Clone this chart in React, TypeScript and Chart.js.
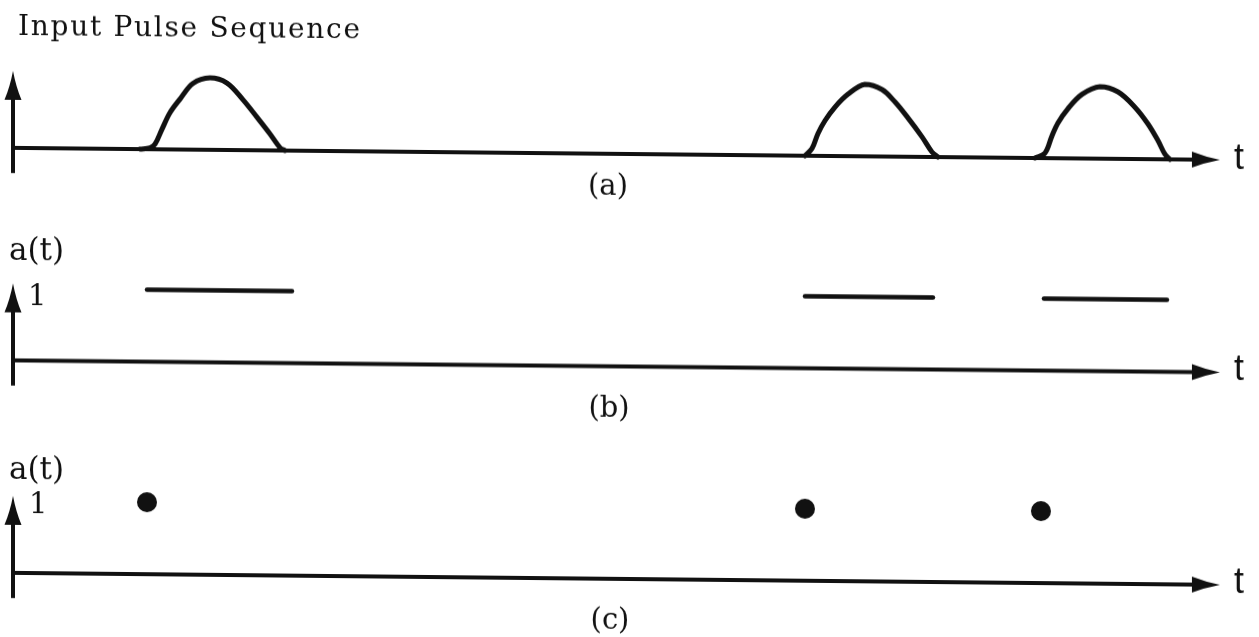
import React, { useEffect, useRef } from "react";
import { Chart, registerables } from "chart.js";

Chart.register(...registerables);

// ---- time axis / amplitude axis extents (data units) ----
const T_MAX = 12.07;
const AXIS_TOP = 1.07;
const AXIS_BOTTOM = -0.35;

// ---- (a) input pulse sequence: time / amplitude pairs for each pulse ----
const pulse1T = [1.27, 1.37, 1.42, 1.49, 1.57, 1.67, 1.8, 1.97, 2.14, 2.3, 2.44, 2.57, 2.67, 2.72];
const pulse1A = [0, 0.02, 0.07, 0.28, 0.51, 0.7, 0.92, 1.0, 0.93, 0.7, 0.46, 0.23, 0.04, 0];

const pulse2T = [7.92, 7.99, 8.05, 8.12, 8.22, 8.35, 8.52, 8.69, 8.82, 8.95, 9.09, 9.19, 9.25];
const pulse2A = [0, 0.1, 0.31, 0.49, 0.68, 0.86, 1.0, 0.93, 0.76, 0.54, 0.28, 0.07, 0];

const pulse3T = [10.22, 10.32, 10.39, 10.45, 10.55, 10.69, 10.87, 11.05, 11.22, 11.35, 11.45, 11.52, 11.57];
const pulse3A = [0, 0.07, 0.31, 0.49, 0.69, 0.89, 1.0, 0.93, 0.72, 0.49, 0.26, 0.07, 0];

// ---- (b) gating function a(t): level 1 while a pulse is present ----
const gateStarts = [1.34, 7.92, 10.31];
const gateEnds = [2.79, 9.2, 11.54];
const gateLevel = [1, 1, 1];

// ---- (c) sampled a(t): one impulse per pulse ----
const sampleTimes = [1.34, 7.92, 10.28];
const sampleValues = [1, 1, 1];

// ---- text ----
const TITLE = "Input Pulse Sequence";
const Y_LABEL = "a(t)";
const Y_TICK = "1";
const X_LABEL = "t";
const PANEL_TAGS = ["(a)", "(b)", "(c)"];

const INK = "#111";
const SERIF = "'DejaVu Serif', serif";
const SANS = "'Liberation Sans', 'DejaVu Sans', sans-serif";
const UNIT_PX = 72;

type Label = {
  text: string;
  x: number; // absolute canvas x
  dy: number; // offset from the time axis line
  font: string;
  align: CanvasTextAlign;
  baseline: CanvasTextBaseline;
  width?: number; // spread letters to this width
};

type PanelSpec = {
  top: number;
  height: number;
  axisY: number;
  type: "line" | "scatter";
  datasets: any[];
  labels: Label[];
};

function toPoints(xs: number[], ys: number[]) {
  return xs.map((x, i) => ({ x, y: ys[i] }));
}

function drawSpaced(ctx: CanvasRenderingContext2D, text: string, x: number, y: number, width: number) {
  const chars = Array.from(text);
  const natural = ctx.measureText(text).width;
  const extra = chars.length > 1 ? (width - natural) / (chars.length - 1) : 0;
  let cx = x;
  ctx.textAlign = "left";
  for (const ch of chars) {
    ctx.fillText(ch, cx, y);
    cx += ctx.measureText(ch).width + extra;
  }
}

function figurePlugin(labels: Label[]) {
  return {
    id: "figureAxes",
    beforeDatasetsDraw(chart: any) {
      const ctx: CanvasRenderingContext2D = chart.ctx;
      const xs = chart.scales.x;
      const ys = chart.scales.y;
      const x0 = xs.getPixelForValue(0);
      const x1 = xs.getPixelForValue(T_MAX);
      const y0 = ys.getPixelForValue(0);
      const yTop = ys.getPixelForValue(AXIS_TOP);
      const yBot = ys.getPixelForValue(AXIS_BOTTOM);

      ctx.save();
      ctx.strokeStyle = INK;
      ctx.fillStyle = INK;
      ctx.lineWidth = 4;
      ctx.lineCap = "butt";

      // vertical axis with arrowhead
      ctx.beginPath();
      ctx.moveTo(x0, yBot);
      ctx.lineTo(x0, yTop + 20);
      ctx.stroke();
      ctx.beginPath();
      ctx.moveTo(x0, yTop);
      ctx.quadraticCurveTo(x0 - 3, yTop + 16, x0 - 8.5, yTop + 29);
      ctx.lineTo(x0 + 8.5, yTop + 29);
      ctx.quadraticCurveTo(x0 + 3, yTop + 16, x0, yTop);
      ctx.closePath();
      ctx.fill();

      // time axis with arrowhead
      ctx.beginPath();
      ctx.moveTo(x0 - 2, y0);
      ctx.lineTo(x1 - 20, y0);
      ctx.stroke();
      ctx.beginPath();
      ctx.moveTo(x1, y0);
      ctx.quadraticCurveTo(x1 - 15, y0 - 3, x1 - 28, y0 - 8);
      ctx.lineTo(x1 - 28, y0 + 8);
      ctx.quadraticCurveTo(x1 - 15, y0 + 3, x1, y0);
      ctx.closePath();
      ctx.fill();

      // text
      for (const l of labels) {
        ctx.font = l.font;
        ctx.textBaseline = l.baseline;
        ctx.textAlign = l.align;
        const y = y0 + l.dy;
        if (l.width) drawSpaced(ctx, l.text, l.x, y, l.width);
        else ctx.fillText(l.text, l.x, y);
      }
      ctx.restore();
    },
  };
}

const lineStyle = {
  borderColor: INK,
  borderWidth: 5,
  pointRadius: 0,
  borderCapStyle: "round",
  borderJoinStyle: "round",
  clip: false,
};

const pulseStyle = { ...lineStyle, tension: 0.35 };

const panels: PanelSpec[] = [
  {
    top: 0,
    height: 212,
    axisY: 154,
    type: "line",
    datasets: [
      { ...pulseStyle, data: toPoints(pulse1T, pulse1A) },
      { ...pulseStyle, data: toPoints(pulse2T, pulse2A) },
      { ...pulseStyle, data: toPoints(pulse3T, pulse3A) },
    ],
    labels: [
      { text: TITLE, x: 18, dy: -113, font: `28px ${SERIF}`, align: "left", baseline: "alphabetic", width: 342 },
      { text: PANEL_TAGS[0], x: 608, dy: 33, font: `29px ${SERIF}`, align: "center", baseline: "middle" },
      { text: X_LABEL, x: 1239, dy: -1, font: `36px ${SANS}`, align: "center", baseline: "middle" },
    ],
  },
  {
    top: 212,
    height: 212,
    axisY: 154.5,
    type: "line",
    datasets: gateStarts.map((s, i) => ({
      ...lineStyle,
      borderWidth: 4.5,
      data: [
        { x: s, y: gateLevel[i] },
        { x: gateEnds[i], y: gateLevel[i] },
      ],
    })),
    labels: [
      { text: Y_LABEL, x: 9, dy: -108.5, font: `31px ${SERIF}`, align: "left", baseline: "middle" },
      { text: Y_TICK, x: 28, dy: -63, font: `29px ${SERIF}`, align: "left", baseline: "middle" },
      { text: PANEL_TAGS[1], x: 609, dy: 42.5, font: `29px ${SERIF}`, align: "center", baseline: "middle" },
      { text: X_LABEL, x: 1239, dy: -2.5, font: `36px ${SANS}`, align: "center", baseline: "middle" },
    ],
  },
  {
    top: 424,
    height: 213,
    axisY: 155,
    type: "scatter",
    datasets: [
      {
        data: toPoints(sampleTimes, sampleValues),
        pointRadius: 10,
        pointBackgroundColor: INK,
        pointBorderColor: INK,
        pointBorderWidth: 0,
        showLine: false,
        clip: false,
      },
    ],
    labels: [
      { text: Y_LABEL, x: 9, dy: -102, font: `31px ${SERIF}`, align: "left", baseline: "middle" },
      { text: Y_TICK, x: 29, dy: -67.5, font: `29px ${SERIF}`, align: "left", baseline: "middle" },
      { text: PANEL_TAGS[2], x: 610, dy: 42, font: `29px ${SERIF}`, align: "center", baseline: "middle" },
      { text: X_LABEL, x: 1239, dy: -2, font: `36px ${SANS}`, align: "center", baseline: "middle" },
    ],
  },
];

const WIDTH = 1259;
const AREA_LEFT = 13;
const AREA_RIGHT = 1220;

function Panel({ spec }: { spec: PanelSpec }) {
  const ref = useRef<HTMLCanvasElement | null>(null);
  useEffect(() => {
    if (!ref.current) return;
    const chart = new Chart(ref.current, {
      type: spec.type as any,
      data: { datasets: spec.datasets },
      options: {
        responsive: false,
        animation: false,
        devicePixelRatio: 1,
        events: [],
        layout: {
          padding: {
            left: AREA_LEFT,
            right: WIDTH - AREA_RIGHT,
            top: spec.axisY - UNIT_PX,
            bottom: spec.height - spec.axisY,
          },
        },
        scales: {
          x: { type: "linear", min: 0, max: T_MAX, display: false },
          y: { type: "linear", min: 0, max: 1, display: false },
        },
        plugins: {
          legend: { display: false },
          tooltip: { enabled: false },
        },
      },
      plugins: [figurePlugin(spec.labels)],
    } as any);
    return () => chart.destroy();
  }, [spec]);
  return (
    <canvas
      ref={ref}
      width={WIDTH}
      height={spec.height}
      style={{ position: "absolute", left: 0, top: spec.top, display: "block" }}
    />
  );
}

export default function App() {
  return (
    <div
      style={{
        position: "fixed",
        left: 0,
        top: 0,
        width: WIDTH,
        height: 637,
        background: "#fff",
        transform: "skewY(0.57deg)",
        transformOrigin: "50% 50%",
      }}
    >
      {panels.map((p, i) => (
        <Panel key={i} spec={p} />
      ))}
    </div>
  );
}
